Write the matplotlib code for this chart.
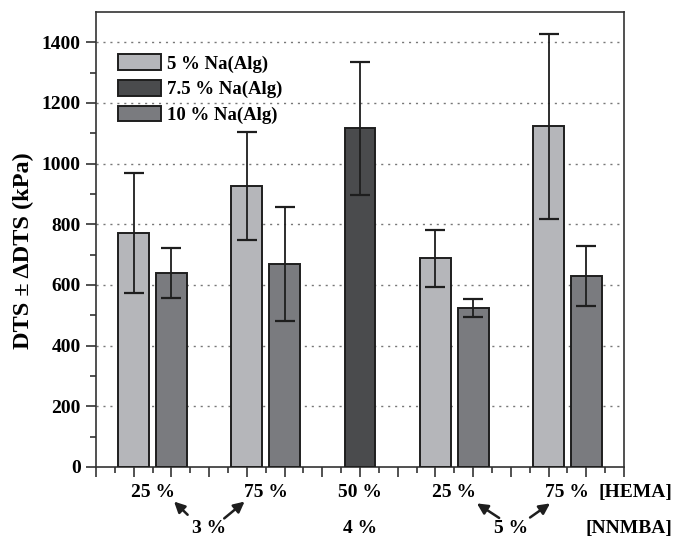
import matplotlib.pyplot as plt
import numpy as np

plt.rcParams['font.family'] = ['Liberation Serif', 'DejaVu Serif']
plt.rcParams['font.weight'] = 'bold'

# bar positions on the x axis (one unit per major tick)
x_5 = [1, 4, 9, 12]
x_75 = [7]
x_10 = [2, 5, 10, 13]

# DTS values and errors (kPa)
dts_5 = [772, 925, 688, 1123]
err_5 = [198, 178, 94, 305]
dts_75 = [1116]
err_75 = [218]
dts_10 = [640, 670, 525, 630]
err_10 = [83, 188, 29, 99]

hema_labels = ['25 %', '75 %', '50 %', '25 %', '75 %']
hema_pos = [1.5, 4.5, 7, 9.5, 12.5]
nnmba_labels = ['3 %', '4 %', '5 %']
nnmba_pos = [3, 7, 11]

c_5 = '#b5b6ba'
c_75 = '#4a4b4d'
c_10 = '#7a7b7f'
edge = '#1e1e1e'

fig = plt.figure(figsize=(6.75, 5.4), dpi=100)
ax = fig.add_axes([0.1422, 0.1352, 0.7822, 0.8426])

w = 0.82
ekw = dict(ecolor=edge, elinewidth=1.3, capsize=7, capthick=1.6)
ax.bar(x_5, dts_5, w, yerr=err_5, color=c_5, edgecolor=edge, linewidth=1.4,
       error_kw=ekw, label='5 % Na(Alg)', zorder=3)
ax.bar(x_75, dts_75, w, yerr=err_75, color=c_75, edgecolor=edge, linewidth=1.4,
       error_kw=ekw, label='7.5 % Na(Alg)', zorder=3)
ax.bar(x_10, dts_10, w, yerr=err_10, color=c_10, edgecolor=edge, linewidth=1.4,
       error_kw=ekw, label='10 % Na(Alg)', zorder=3)

ax.set_xlim(0, 14)
ax.set_ylim(0, 1500)
ax.set_xticks(np.arange(0, 15))
ax.set_xticks(np.arange(0.5, 14, 1), minor=True)
ax.set_xticklabels([])
ax.set_yticks(np.arange(0, 1401, 200))
ax.set_yticks(np.arange(100, 1500, 200), minor=True)
ax.tick_params(axis='both', which='major', direction='out', length=7, width=1.1,
               labelsize=14, pad=4, color='#222222')
ax.tick_params(axis='both', which='minor', direction='out', length=4, width=1.1,
               color='#222222')
for s in ax.spines.values():
    s.set_linewidth(1.2)
    s.set_color('#333333')

for yv in np.arange(200, 1401, 200):
    ax.axhline(yv, color='#777777', linewidth=1.0, linestyle=(0, (1.5, 3.5)),
               zorder=1)

ax.set_ylabel('DTS ± ΔDTS (kPa)', fontsize=17.5, fontweight='bold')
ax.yaxis.set_label_coords(-0.118, 0.476)

for lab, p in zip(hema_labels, hema_pos):
    ax.text(p, -0.057, lab, transform=ax.get_xaxis_transform(), ha='center',
            va='center', fontsize=14, fontweight='bold')
for lab, p in zip(nnmba_labels, nnmba_pos):
    ax.text(p, -0.136, lab, transform=ax.get_xaxis_transform(), ha='center',
            va='center', fontsize=14, fontweight='bold')
ax.text(1.091, -0.057, '[HEMA]', transform=ax.transAxes, ha='right',
        va='center', fontsize=14, fontweight='bold')
ax.text(1.091, -0.136, '[NNMBA]', transform=ax.transAxes, ha='right',
        va='center', fontsize=14, fontweight='bold')

arrows = [((2.43, -0.105), (2.07, -0.076)),
          ((3.40, -0.113), (3.94, -0.076)),
          ((10.69, -0.112), (10.10, -0.080)),
          ((11.51, -0.111), (12.04, -0.080))]
for tail, head in arrows:
    ax.annotate('', xy=head, xytext=tail, xycoords=ax.get_xaxis_transform(),
                textcoords=ax.get_xaxis_transform(),
                arrowprops=dict(arrowstyle='-|>', color='#1e1e1e', lw=1.8,
                                mutation_scale=16, shrinkA=0, shrinkB=0),
                annotation_clip=False)

ax.legend(loc='upper left', bbox_to_anchor=(0.042, 0.907), frameon=False,
          handlelength=2.3, handleheight=0.9, handletextpad=0.3,
          labelspacing=0.4, borderpad=0, borderaxespad=0,
          prop={'weight': 'bold', 'size': 13.5})

fig.savefig('out.png', dpi=100)
